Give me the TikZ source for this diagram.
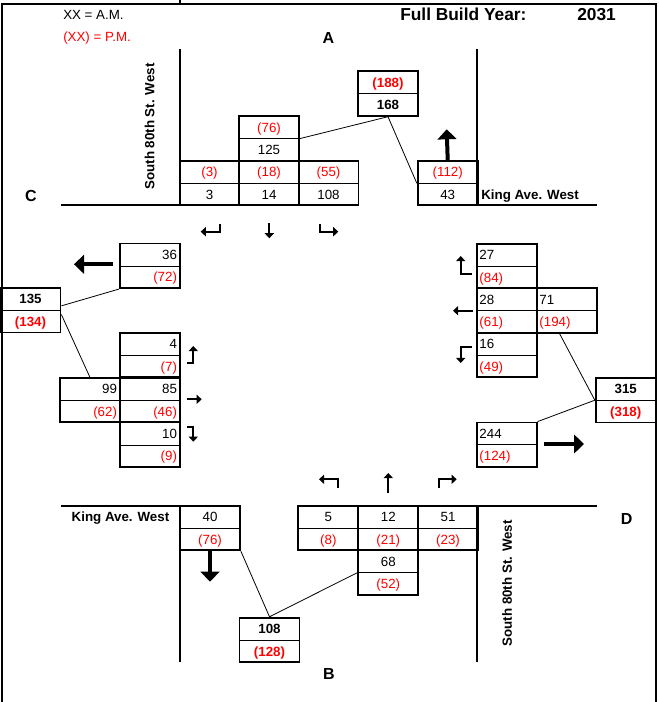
\documentclass[tikz,border=0pt]{standalone}
\usepackage{fontspec}
\setmainfont{Liberation Sans}
\usepackage{xcolor}
\definecolor{pmred}{HTML}{FF0000}
\usetikzlibrary{arrows.meta,calc}

\newcommand{\pmv}[1]{\textcolor{pmred}{(#1)}}
% volume box: name, x, y, upper text, lower text, text anchor
\newcommand{\volbox}[6]{%
  \node[cellbox] (#1) at (#2,#3) {};
  \draw[divider] (#1.west) -- (#1.east);
  \node[celltext,anchor=#6] at ($(#1.#6)+(0,-11.2)$) {#4};
  \node[celltext,anchor=#6] at ($(#1.#6)+(0,11.2)$) {#5};}

\begin{document}
\begin{tikzpicture}[x=0.75pt,y=-0.75pt,
    cellbox/.style={draw,line width=1.3pt,minimum width=45pt,minimum height=33.5pt,inner sep=0pt},
    celltext/.style={inner xsep=2.5pt,inner ysep=0pt,text height=7.2pt,text depth=0pt},
    divider/.style={line width=0.6pt},
    road/.style={line width=1.3pt},
    link/.style={line width=0.6pt},
    turn/.style={line width=1.5pt,-{Triangle[length=3.8pt,width=6.8pt]}},
    flow/.style={line width=3pt,-{Triangle[length=7.5pt,width=14pt]}},
    approach/.style={font=\fontsize{12}{14}\selectfont\bfseries}]
  \useasboundingbox (0,0) rectangle (658,702);
  \draw[line width=1.5pt] (2,702) -- (2,4) -- (655.5,4) -- (655.5,702);
  \draw[line width=1.5pt] (180,0) -- (180,4);

  % legend and title
  \node[anchor=base west,inner sep=0pt] (legam) at (63,20) {XX = A.M.};
  \node[anchor=base west,inner sep=0pt,pmred] (legpm) at (63,41.7) {(XX) = P.M.};
  \node[anchor=base west,inner sep=0pt,font=\fontsize{13}{15}\selectfont\bfseries] (title) at (400,20.5) {Full Build Year:};
  \node[anchor=base west,inner sep=0pt,font=\fontsize{13}{15}\selectfont\bfseries] (year) at (577,20.5) {2031};

  % streets
  \draw[road] (180,49) -- (180,205);
  \draw[road] (477,49) -- (477,205);
  \draw[road] (61,205) -- (358,205);
  \draw[road] (418,205) -- (596.7,205);
  \draw[road] (61,505.7) -- (240,505.7);
  \draw[road] (298.3,505.7) -- (596.7,505.7);
  \draw[road] (180,505.7) -- (180,662.3);
  \draw[road] (477,505.7) -- (477,662.3);
  \node[rotate=90,inner sep=0pt,font=\bfseries] (stn) at (149.7,126.5) {South 80th St. West};
  \node[rotate=90,inner sep=0pt,font=\bfseries] (sts) at (507.2,583.3) {South 80th St. West};
  \node[anchor=base west,inner sep=0pt,font=\bfseries] (kinge) at (481,199.5) {King Ave. West};
  \node[anchor=base east,inner sep=0pt,font=\bfseries] (kingw) at (169.5,521.7) {King Ave. West};
  \node[approach,anchor=base,inner sep=0pt] (legA) at (328.5,43.3) {A};
  \node[approach,anchor=base,inner sep=0pt] (legB) at (328.8,679.3) {B};
  \node[approach,anchor=base,inner sep=0pt] (legC) at (31,201) {C};
  \node[approach,anchor=base,inner sep=0pt] (legD) at (626.7,524) {D};

  % A: north leg
  \volbox{a3}{209.5}{183.3}{\pmv{3}}{3}{center}
  \volbox{a14}{269}{183.3}{\pmv{18}}{14}{center}
  \volbox{a108}{328.5}{183.3}{\pmv{55}}{108}{center}
  \volbox{a125}{269}{138.6}{\pmv{76}}{125}{center}
  \volbox{a188}{388}{93.5}{\textbf{\pmv{188}}}{\textbf{168}}{center}
  \volbox{a43}{447.7}{183.3}{\pmv{112}}{43}{center}
  \draw[link] (a125.east) -- (a188.south) -- (a43.west);

  % C: west leg
  \volbox{c36}{149.7}{265.9}{36}{\pmv{72}}{east}
  \volbox{c135}{30.5}{310.2}{\textbf{135}}{\textbf{\pmv{134}}}{center}
  \volbox{c4}{149.7}{355}{4}{\pmv{7}}{east}
  \volbox{c85}{149.7}{400}{85}{\pmv{46}}{east}
  \volbox{c10}{149.7}{444.9}{10}{\pmv{9}}{east}
  \volbox{c99}{89.7}{400}{99}{\pmv{62}}{east}
  \draw[link] (c36.south west) -- (c135.8);
  \draw[link] (c135.-8) -- (c99.north);

  % D: east leg
  \volbox{d27}{506.7}{266.2}{27}{\pmv{84}}{west}
  \volbox{d28}{506.7}{310.5}{28}{\pmv{61}}{west}
  \volbox{d71}{566.7}{310.5}{71}{\pmv{194}}{west}
  \volbox{d16}{506.7}{355}{16}{\pmv{49}}{west}
  \volbox{d315}{625.7}{400.2}{\textbf{315}}{\textbf{\pmv{318}}}{center}
  \volbox{d244}{506.7}{444.8}{244}{\pmv{124}}{west}
  \draw[link] (d71.-107) -- (d315.west) -- (d244.north east);

  % B: south leg
  \volbox{b40}{210}{528}{40}{\pmv{76}}{center}
  \volbox{b5}{328.3}{528}{5}{\pmv{8}}{center}
  \volbox{b12}{388.3}{528}{12}{\pmv{21}}{center}
  \volbox{b51}{448}{528}{51}{\pmv{23}}{center}
  \volbox{b68}{388.3}{572.6}{68}{\pmv{52}}{center}
  \volbox{b108}{269.5}{640}{\textbf{108}}{\textbf{\pmv{128}}}{center}
  \draw[link] (b40.south east) -- (b108.north) -- (b68.west);

  % turning movements
  \draw[turn] (220,224.3) -- (220,231.7) -- (200.7,231.7);
  \draw[turn] (269.3,223) -- (269.3,238.3);
  \draw[turn] (320,224.3) -- (320,231.7) -- (338.3,231.7);
  \draw[turn] (187.3,363.3) -- (193.3,363.3) -- (193.3,346);
  \draw[turn] (187,399.3) -- (201.7,399.3);
  \draw[turn] (187.3,426.7) -- (193.3,426.7) -- (193.3,441.7);
  \draw[turn] (471.7,274) -- (460.7,274) -- (460.7,256);
  \draw[turn] (473,310.7) -- (453,310.7);
  \draw[turn] (471.7,346.7) -- (460.7,346.7) -- (460.7,363);
  \draw[turn] (338,488) -- (338,479.3) -- (319,479.3);
  \draw[turn] (388.3,493) -- (388.3,473);
  \draw[turn] (439.3,488) -- (439.3,479.3) -- (456.7,479.3);

  % departing flows
  \draw[flow] (a43.north) -- (446.7,129.3);
  \draw[flow] (113,264.3) -- (74,264.3);
  \draw[flow] (b40.south) -- (210,581.7);
  \draw[flow] (544,444) -- (584,444);
\end{tikzpicture}
\end{document}
